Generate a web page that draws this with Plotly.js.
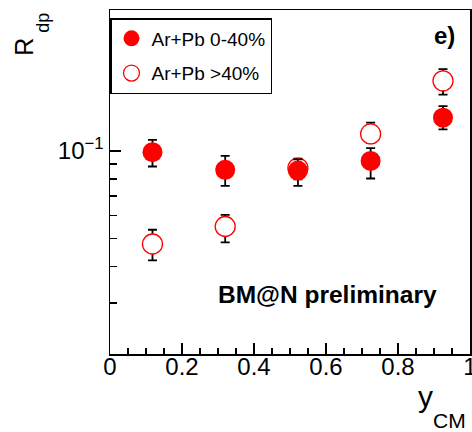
<!DOCTYPE html>
<html>
<head>
<meta charset="utf-8">
<script src="https://cdn.plot.ly/plotly-3.0.1.min.js"></script>
<style>
  html, body { margin: 0; padding: 0; background: #fff; }
  #chart { width: 472px; height: 432px; }
</style>
</head>
<body>
<div id="chart"></div>
<script>
// Rapidity bins (y_CM) and R_dp ratios for the two Ar+Pb centrality classes
const yCM = [0.118, 0.32, 0.522, 0.724, 0.925];

const central = [0.0989, 0.0860, 0.0855, 0.0923, 0.1300];
const centralErrUp = [0.0101, 0.0100, 0.0080, 0.0098, 0.0125];
const centralErrDown = [0.0106, 0.0102, 0.0097, 0.0120, 0.0115];

const peripheral = [0.0478, 0.0549, 0.0872, 0.1143, 0.1740];
const peripheralErrUp = [0.0057, 0.0053, 0.0068, 0.0107, 0.0170];
const peripheralErrDown = [0.0058, 0.0065, 0.0075, 0.0081, 0.0180];

const legendNames = ['Ar+Pb 0-40%', 'Ar+Pb >40%'];
const xTickVals = [0, 0.2, 0.4, 0.6, 0.8, 1];
const xTickText = ['0', '0.2', '0.4', '0.6', '0.8', '1'];
const yTickVals = [0.1];
const yTickText = ['10<sup>\u22121</sup>'];
const yMinorVals = [0.02, 0.03, 0.04, 0.05, 0.06, 0.07, 0.08, 0.09, 0.2];

const FONT = 'Liberation Sans, Arial, Helvetica, sans-serif';

// plot-area geometry in pixels, used to place free text in paper units
const W = 472, H = 432, ML = 110, MR = 2, MT = 10, MB = 78;
const PW = W - ML - MR, PH = H - MT - MB;
const px = v => (v - ML) / PW;
const py = v => (H - MB - v) / PH;

const errStyle = { color: 'black', thickness: 1.8, width: 4.5 };

const traces = [
  {
    x: yCM, y: peripheral, name: legendNames[1], type: 'scatter', mode: 'markers',
    legendrank: 2, legendgroup: 'peripheral',
    marker: { symbol: 'circle', size: 20, color: 'white', line: { color: '#ff0000', width: 1.3 } },
    error_y: Object.assign({ type: 'data', symmetric: false, array: peripheralErrUp, arrayminus: peripheralErrDown }, errStyle)
  },
  {
    x: yCM, y: central, name: legendNames[0], type: 'scatter', mode: 'markers',
    legendrank: 1, legendgroup: 'central',
    marker: { symbol: 'circle', size: 20, color: '#ff0000', line: { width: 0 } },
    error_y: Object.assign({ type: 'data', symmetric: false, array: centralErrUp, arrayminus: centralErrDown }, errStyle)
  }
];

const layout = {
  width: W, height: H,
  margin: { l: ML, r: MR, t: MT, b: MB, pad: 0 },
  paper_bgcolor: 'white', plot_bgcolor: 'white',
  font: { family: FONT, color: 'black' },
  showlegend: true,
  legend: {
    x: 0, y: py(18), xanchor: 'left', yanchor: 'top',
    bgcolor: 'white', bordercolor: 'black', borderwidth: 1.5,
    font: { family: FONT, size: 19, color: 'black' },
    traceorder: 'grouped', tracegroupgap: 7
  },
  xaxis: {
    range: [0, 1],
    tickmode: 'array', tickvals: xTickVals, ticktext: xTickText,
    ticks: 'inside', ticklen: 11, tickwidth: 1.5, tickcolor: 'black',
    minor: { dtick: 0.05, tick0: 0, ticks: 'inside', ticklen: 6, tickwidth: 1.5, tickcolor: 'black', showgrid: false },
    showline: true, linecolor: 'black', linewidth: 1.5, mirror: true,
    showgrid: false, zeroline: false,
    ticklabeloverflow: 'allow', ticklabelstandoff: -9,
    tickfont: { family: FONT, size: 24, color: 'black' }
  },
  yaxis: {
    type: 'log',
    range: [Math.log10(0.02), Math.log10(0.305)],
    tickmode: 'array', tickvals: yTickVals, ticktext: yTickText,
    ticks: 'inside', ticklen: 11, tickwidth: 1.5, tickcolor: 'black',
    minor: { tickmode: 'array', tickvals: yMinorVals, ticks: 'inside', ticklen: 7, tickwidth: 1.5, tickcolor: 'black', showgrid: false },
    showline: true, linecolor: 'black', linewidth: 1.5, mirror: true,
    showgrid: false, zeroline: false,
    tickfont: { family: FONT, size: 24, color: 'black' }
  },
  annotations: [
    { text: 'BM@N preliminary', xref: 'paper', yref: 'paper', x: px(327), y: py(294.2),
      xanchor: 'center', yanchor: 'middle', showarrow: false,
      font: { family: FONT, size: 24.5, weight: 'bold', color: 'black' } },
    { text: 'e)', xref: 'paper', yref: 'paper', x: px(457), y: py(35.7),
      xanchor: 'right', yanchor: 'middle', showarrow: false,
      font: { family: FONT, size: 24, weight: 'bold', color: 'black' } },
    // x-axis title y_CM, right aligned under the axis
    { text: 'y', xref: 'paper', yref: 'paper', x: px(425), y: py(396.9),
      xanchor: 'center', yanchor: 'middle', showarrow: false,
      font: { family: FONT, size: 30, color: 'black' } },
    { text: 'CM', xref: 'paper', yref: 'paper', x: px(449), y: py(420.5),
      xanchor: 'center', yanchor: 'middle', showarrow: false,
      font: { family: FONT, size: 21, color: 'black' } },
    // y-axis title R_dp, top aligned beside the axis
    { text: 'R', xref: 'paper', yref: 'paper', x: px(24), y: py(46.7), textangle: -90,
      xanchor: 'center', yanchor: 'middle', showarrow: false,
      font: { family: FONT, size: 25, color: 'black' } },
    { text: 'dp', xref: 'paper', yref: 'paper', x: px(43.5), y: py(23.3), textangle: -90,
      xanchor: 'center', yanchor: 'middle', showarrow: false,
      font: { family: FONT, size: 18, color: 'black' } }
  ]
};

Plotly.newPlot('chart', traces, layout, { displayModeBar: false, staticPlot: true });
</script>
</body>
</html>
